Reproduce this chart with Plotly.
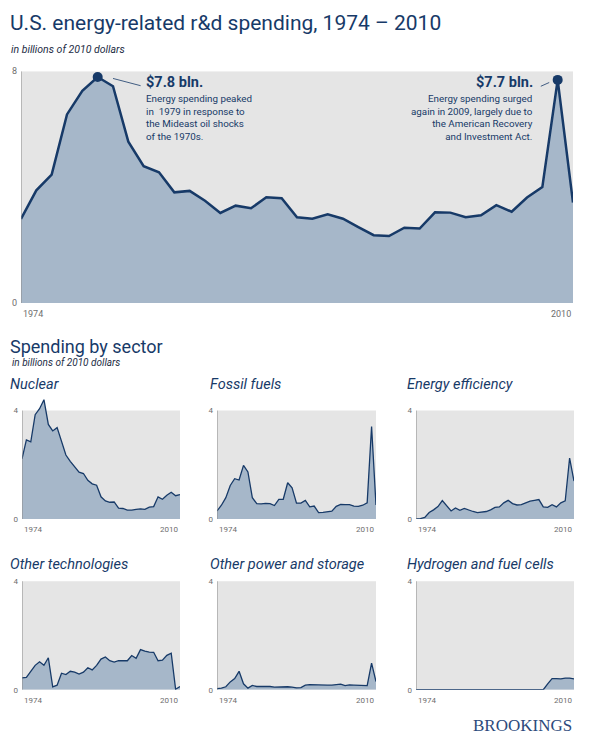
import plotly.graph_objects as go

# ---------------- data ----------------
YEARS = list(range(1974, 2011))

TOTAL = [2.90, 3.89, 4.43, 6.51, 7.32, 7.80, 7.48, 5.57, 4.72, 4.51,
         3.82, 3.87, 3.53, 3.11, 3.36, 3.27, 3.65, 3.62, 2.96, 2.91,
         3.06, 2.91, 2.62, 2.34, 2.31, 2.60, 2.57, 3.13, 3.12, 2.96,
         3.03, 3.38, 3.15, 3.64, 4.00, 7.70, 3.47]

NUCLEAR = [2.22, 2.92, 2.85, 3.85, 4.07, 4.40, 3.49, 3.25, 3.37, 2.88,
           2.36, 2.13, 1.94, 1.73, 1.68, 1.43, 1.30, 1.25, 0.82, 0.67,
           0.62, 0.63, 0.40, 0.39, 0.33, 0.33, 0.36, 0.38, 0.36, 0.44,
           0.46, 0.82, 0.73, 0.88, 0.99, 0.86, 0.90]

FOSSIL = [0.30, 0.51, 0.79, 1.24, 1.49, 1.44, 1.98, 1.74, 0.79, 0.57,
          0.56, 0.58, 0.57, 0.50, 0.73, 0.73, 1.34, 1.15, 0.59, 0.59,
          0.69, 0.45, 0.48, 0.24, 0.25, 0.28, 0.29, 0.47, 0.54, 0.53,
          0.53, 0.48, 0.47, 0.51, 0.60, 3.41, 0.52]

EFFICIENCY = [0.01, 0.02, 0.06, 0.24, 0.34, 0.46, 0.68, 0.49, 0.30, 0.41,
              0.32, 0.39, 0.33, 0.28, 0.24, 0.26, 0.28, 0.34, 0.43, 0.45,
              0.60, 0.69, 0.57, 0.52, 0.53, 0.60, 0.66, 0.69, 0.72, 0.45,
              0.43, 0.53, 0.45, 0.60, 0.67, 2.25, 1.40]

OTHER_TECH = [0.44, 0.46, 0.68, 0.90, 1.03, 0.90, 1.18, 0.11, 0.17, 0.61,
              0.56, 0.68, 0.65, 0.58, 0.65, 0.81, 0.73, 0.90, 1.13, 1.21,
              1.07, 1.02, 1.07, 1.08, 1.07, 1.26, 1.16, 1.48, 1.42, 1.39,
              1.38, 1.07, 1.09, 1.27, 1.35, 0.02, 0.12]

OTHER_POWER = [0.04, 0.06, 0.11, 0.29, 0.41, 0.68, 0.22, 0.06, 0.16, 0.12,
               0.12, 0.13, 0.12, 0.10, 0.11, 0.10, 0.11, 0.10, 0.07, 0.08,
               0.17, 0.19, 0.18, 0.18, 0.18, 0.17, 0.17, 0.19, 0.21, 0.15,
               0.18, 0.17, 0.16, 0.15, 0.15, 0.98, 0.30]

HYDROGEN = [0.0] * 29 + [0.0, 0.22, 0.41, 0.41, 0.40, 0.43, 0.43, 0.40]

SECTOR_TITLES = ["Nuclear", "Fossil fuels", "Energy efficiency",
                 "Other technologies", "Other power and storage",
                 "Hydrogen and fuel cells"]
SECTOR_VALUES = [NUCLEAR, FOSSIL, EFFICIENCY, OTHER_TECH, OTHER_POWER, HYDROGEN]

YEAR_TICK_LABELS = ["1974", "2010"]
MAIN_Y_TICKS = [0, 8]
SMALL_Y_TICKS = [0, 4]

TITLE = "U.S. energy-related r&d spending, 1974 \u2013 2010"
SUBTITLE = "in billions of 2010 dollars"
SECTION_TITLE = "Spending by sector"

# ---------------- style ----------------
OFF = 8                      # page body margin offset
W, H = 599 - OFF, 750 - OFF  # figure size
NAVY = "#173a68"
FILL = "#a6b7c9"
BG = "#e5e5e5"
TICK = "#6e6e6e"
AXIS = "#8a8a8a"
FONT = "Roboto"


def fx(p):
    return (p - OFF) / W


def fy(p):
    return 1 - (p - OFF) / H


fig = go.Figure()
layout = dict(
    width=W, height=H, margin=dict(l=0, r=0, t=0, b=0),
    paper_bgcolor="white", plot_bgcolor="rgba(0,0,0,0)",
    showlegend=False, font=dict(family=FONT, color=NAVY),
)
shapes = []
annotations = []


def add_axes(idx, x0, x1, y_zero, y_top_px, yr, ytop_val, yticks, tsize):
    ppu = (y_zero - y_top_px) / ytop_val
    top_px = y_zero - yr * ppu
    sfx = "" if idx == 1 else str(idx)
    layout["xaxis" + sfx] = dict(
        domain=[fx(x0), fx(x1)], range=[YEARS[0], YEARS[-1]],
        anchor="y" + sfx, showgrid=False, zeroline=False, showline=False,
        showticklabels=False, ticks="", fixedrange=True)
    layout["yaxis" + sfx] = dict(
        domain=[fy(y_zero), fy(top_px)], range=[0, yr],
        anchor="x" + sfx, showgrid=False, zeroline=False, showline=False,
        tickvals=yticks, ticktext=[str(t) for t in yticks], ticks="",
        tickfont=dict(size=tsize, color=TICK, family=FONT), ticklabelstandoff=3,
        fixedrange=True)
    xr, yrf = "x" + sfx, "y" + sfx
    shapes.append(dict(type="rect", xref=xr, yref=yrf, x0=YEARS[0], x1=YEARS[-1],
                       y0=0, y1=ytop_val, fillcolor=BG, line=dict(width=0),
                       layer="below"))
    shapes.append(dict(type="line", xref=xr, yref=yrf, x0=YEARS[0], x1=YEARS[0],
                       y0=0, y1=ytop_val, line=dict(color=AXIS, width=1),
                       layer="above"))
    for lab, anchor in zip(YEAR_TICK_LABELS, ["left", "right"]):
        annotations.append(dict(
            text=lab, xref=xr, yref=yrf + " domain", x=int(lab), y=0,
            xanchor=anchor, yanchor="top", yshift=-4, showarrow=False,
            font=dict(size=tsize, color=TICK, family=FONT)))
    return xr, yrf


# main chart
xr, yrf = add_axes(1, 21, 573, 302, 67, 8, 8, MAIN_Y_TICKS, 9)
fig.add_trace(go.Scatter(x=YEARS, y=TOTAL, xaxis=xr, yaxis=yrf, mode="lines",
                         fill="tozeroy", fillcolor=FILL,
                         line=dict(color=NAVY, width=2.5), hoverinfo="skip"))

# peaks
early = [i for i, y in enumerate(YEARS) if y < 1990]
late = [i for i, y in enumerate(YEARS) if y > 2000]
p1 = max(early, key=lambda i: TOTAL[i])
p2 = max(late, key=lambda i: TOTAL[i])
fig.add_trace(go.Scatter(x=[YEARS[p1], YEARS[p2]], y=[TOTAL[p1], TOTAL[p2]],
                         xaxis=xr, yaxis=yrf, mode="markers",
                         marker=dict(color=NAVY, size=10), hoverinfo="skip",
                         cliponaxis=False))
shapes.append(dict(type="line", xref=xr, yref=yrf,
                   x0=YEARS[p1] + 1.0, y0=TOTAL[p1] - 0.05,
                   x1=YEARS[p1] + 2.8, y1=TOTAL[p1] - 0.30,
                   line=dict(color=NAVY, width=0.8)))
shapes.append(dict(type="line", xref=xr, yref=yrf,
                   x0=YEARS[p2] - 1.1, y0=TOTAL[p2] - 0.22,
                   x1=YEARS[p2] - 0.55, y1=TOTAL[p2] - 0.09,
                   line=dict(color=NAVY, width=0.8)))

annotations.append(dict(text="<b>$%.1f bln.</b>" % TOTAL[p1], xref="paper", yref="paper",
                        x=fx(144), y=fy(78), xanchor="left", yanchor="middle",
                        showarrow=False, font=dict(size=14.5, color=NAVY)))
annotations.append(dict(
    text="Energy spending peaked<br>in  1979 in response to<br>the Mideast oil shocks<br>of the 1970s.",
    xref="paper", yref="paper", x=fx(144), y=fy(87), xanchor="left", yanchor="top",
    align="left", showarrow=False, font=dict(size=9.8, color=NAVY)))
annotations.append(dict(text="<b>$%.1f bln.</b>" % TOTAL[p2], xref="paper", yref="paper",
                        x=fx(535), y=fy(78), xanchor="right", yanchor="middle",
                        showarrow=False, font=dict(size=14.5, color=NAVY)))
annotations.append(dict(
    text="Energy spending surged<br>again in 2009, largely due to<br>the American Recovery<br>and Investment Act.",
    xref="paper", yref="paper", x=fx(535), y=fy(87), xanchor="right", yanchor="top",
    align="right", showarrow=False, font=dict(size=9.8, color=NAVY)))

# small multiples
cols = [(22, 180), (217, 376), (416, 574)]
rows = [(521, 411), (694, 584)]
title_x = [8, 208, 405]
title_y = [385, 567]
for k, (name, vals) in enumerate(zip(SECTOR_TITLES, SECTOR_VALUES)):
    r, c = divmod(k, 3)
    x0, x1 = cols[c]
    yz, yt = rows[r]
    xr, yrf = add_axes(k + 2, x0, x1, yz, yt, 4.6, 4, SMALL_Y_TICKS, 8)
    fig.add_trace(go.Scatter(x=YEARS, y=vals, xaxis=xr, yaxis=yrf, mode="lines",
                             fill="tozeroy", fillcolor=FILL,
                             line=dict(color=NAVY, width=1.3), hoverinfo="skip"))
    annotations.append(dict(text="<i>%s</i>" % name, xref="paper", yref="paper",
                            x=fx(title_x[c]), y=fy(title_y[r]), xanchor="left",
                            yanchor="middle", showarrow=False,
                            font=dict(size=14.5, color=NAVY)))

# titles
annotations.append(dict(text=TITLE, xref="paper", yref="paper", x=fx(8), y=fy(18),
                        xanchor="left", yanchor="middle", showarrow=False,
                        font=dict(size=21, color=NAVY, family=FONT)))
annotations.append(dict(text="<i>%s</i>" % SUBTITLE, xref="paper", yref="paper",
                        x=fx(9), y=fy(45), xanchor="left", yanchor="middle",
                        showarrow=False, font=dict(size=10.5, color="#1d2d45")))
annotations.append(dict(text=SECTION_TITLE, xref="paper", yref="paper", x=fx(8),
                        y=fy(346), xanchor="left", yanchor="middle", showarrow=False,
                        font=dict(size=18, color=NAVY)))
annotations.append(dict(text="<i>%s</i>" % SUBTITLE, xref="paper", yref="paper",
                        x=fx(10), y=fy(362), xanchor="left", yanchor="middle",
                        showarrow=False, font=dict(size=10, color="#1d2d45")))
annotations.append(dict(text="BROOKINGS", xref="paper", yref="paper", x=fx(574),
                        y=fy(730), xanchor="right", yanchor="middle", showarrow=False,
                        font=dict(size=17, color="#2c4a7c", family="Liberation Serif")))

layout["shapes"] = shapes
layout["annotations"] = annotations
fig.update_layout(**layout)
fig.write_html("out.html")
